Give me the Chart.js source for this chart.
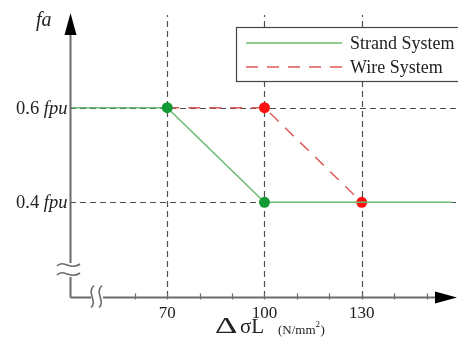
<!DOCTYPE html>
<html>
<head>
<meta charset="utf-8">
<script src="https://cdn.jsdelivr.net/npm/chart.js@4/dist/chart.umd.min.js"></script>
<style>
  html, body { margin: 0; padding: 0; background: #fff; }
  #wrap { width: 458px; height: 345px; }
</style>
</head>
<body>
<div id="wrap"><canvas id="chart"></canvas></div>
<script>
// === Datos ===
const strandX = [40, 70, 100, 158];
const strandY = [0.6, 0.6, 0.4, 0.4];
const strandDots = [70, 100];

const wireX = [70, 100, 130];
const wireY = [0.6, 0.6, 0.4];
const wireDots = [100, 130];

const xGridValues = [70, 100, 130];
const xTickLabels = ["70", "100", "130"];
const xMinorTicks = [60, 70, 80, 90, 100, 110, 120, 130, 140, 150];
const yGridValues = [0.6, 0.4];
const yTickLabels = ["0.6", "0.4"];
const legendLabels = ["Strand System", "Wire System"];

const GREEN = "#6dbb6d";
const GREEN_DOT = "#149a34";
const RED = "#e05a5a";
const RED_DOT = "#ff1010";
const AXIS = "#6a6a6a";
const GRID = "#505050";
const SERIF = "'Liberation Serif', 'DejaVu Serif', serif";

const toPts = (xs, ys) => xs.map((x, i) => ({ x: x, y: ys[i] }));
const dotRadius = (dots) => (ctx) => dots.includes(ctx.raw.x) ? 5.5 : 0;

// === Dibujo de ejes, rejilla, etiquetas y leyenda ===
const decor = {
  id: "decor",
  beforeDatasetsDraw(chart) {
    const { ctx, chartArea: a, scales: { x, y } } = chart;
    ctx.save();
    // rejilla discontinua
    ctx.strokeStyle = GRID;
    ctx.lineWidth = 1.2;
    ctx.setLineDash([6, 4]);
    xGridValues.forEach(v => {
      const px = Math.round(x.getPixelForValue(v)) + 0.5;
      ctx.beginPath(); ctx.moveTo(px, a.bottom); ctx.lineTo(px, a.top + 2); ctx.stroke();
    });
    yGridValues.forEach(v => {
      const py = Math.round(y.getPixelForValue(v)) + 0.5;
      ctx.beginPath(); ctx.moveTo(a.left, py); ctx.lineTo(chart.width, py); ctx.stroke();
    });
    ctx.restore();
  },
  afterDatasetsDraw(chart) {
    const { ctx, chartArea: a, scales: { x, y } } = chart;
    ctx.save();
    const ox = a.left + 0.5, oy = Math.round(y.getPixelForValue(0.2)) + 0.5;

    // ejes
    ctx.strokeStyle = AXIS;
    ctx.lineWidth = 2;
    ctx.beginPath(); ctx.moveTo(ox, oy); ctx.lineTo(ox, 34); ctx.stroke();
    ctx.beginPath(); ctx.moveTo(ox, oy); ctx.lineTo(436, oy); ctx.stroke();
    ctx.fillStyle = "#000";
    ctx.beginPath(); ctx.moveTo(ox, 13); ctx.lineTo(ox - 6, 35); ctx.lineTo(ox + 6, 35); ctx.closePath(); ctx.fill();
    ctx.beginPath(); ctx.moveTo(457, oy); ctx.lineTo(435, oy - 6); ctx.lineTo(435, oy + 6); ctx.closePath(); ctx.fill();

    // marcas menores
    ctx.lineWidth = 1.2;
    xMinorTicks.forEach(v => {
      const px = Math.round(x.getPixelForValue(v)) + 0.5;
      ctx.beginPath(); ctx.moveTo(px, oy - 4); ctx.lineTo(px, oy + 2); ctx.stroke();
    });

    // símbolos de corte
    ctx.fillStyle = "#fff";
    ctx.fillRect(ox - 3, 263, 6, 14);
    ctx.fillRect(91, oy - 3, 12, 6);
    ctx.strokeStyle = AXIS;
    ctx.lineWidth = 1.6;
    [265, 274].forEach(yy => {
      ctx.beginPath();
      ctx.moveTo(57, yy + 1);
      ctx.bezierCurveTo(63, yy - 6, 71, yy + 6, 80, yy - 1);
      ctx.stroke();
    });
    [92, 100].forEach(xx => {
      ctx.beginPath();
      ctx.moveTo(xx + 2, oy - 12);
      ctx.bezierCurveTo(xx - 6, oy - 5, xx + 6, oy + 4, xx - 1, oy + 10);
      ctx.stroke();
    });

    // etiquetas eje x
    ctx.fillStyle = "#222";
    ctx.font = "17px " + SERIF;
    ctx.textAlign = "center";
    ctx.textBaseline = "alphabetic";
    xGridValues.forEach((v, i) => {
      ctx.fillText(xTickLabels[i], x.getPixelForValue(v), 318);
    });

    // etiquetas eje y
    ctx.textAlign = "left";
    yGridValues.forEach((v, i) => {
      const py = y.getPixelForValue(v) + 6;
      ctx.font = "18.5px " + SERIF;
      const w1 = ctx.measureText(yTickLabels[i] + " ").width;
      ctx.font = "italic 18.5px " + SERIF;
      const w2 = ctx.measureText("fpu").width;
      const x0 = ox - 3 - w1 - w2;
      ctx.font = "18.5px " + SERIF;
      ctx.fillText(yTickLabels[i] + " ", x0, py);
      ctx.font = "italic 18.5px " + SERIF;
      ctx.fillText("fpu", x0 + w1, py);
    });

    // títulos de ejes
    ctx.font = "italic 20px " + SERIF;
    ctx.fillText("fa", 36, 26);
    ctx.save();
    ctx.translate(215, 333);
    ctx.scale(1.45, 1);
    ctx.font = "24px " + SERIF;
    ctx.fillText("Δ", 0, 0);
    ctx.restore();
    ctx.font = "21px " + SERIF;
    ctx.fillText("σL", 240, 333);
    ctx.font = "13px " + SERIF;
    ctx.fillText("(N/mm", 278, 334);
    const wN = ctx.measureText("(N/mm").width;
    ctx.font = "9px " + SERIF;
    ctx.fillText("2", 278 + wN, 327);
    ctx.font = "13px " + SERIF;
    ctx.fillText(")", 278 + wN + 5, 334);

    // leyenda
    ctx.fillStyle = "#fff";
    ctx.fillRect(237, 28, 230, 54);
    ctx.strokeStyle = "#444";
    ctx.lineWidth = 1.2;
    ctx.strokeRect(236.5, 27.5, 240, 54);
    ctx.lineWidth = 1.5;
    ctx.strokeStyle = GREEN;
    ctx.setLineDash([]);
    ctx.beginPath(); ctx.moveTo(246, 43); ctx.lineTo(342, 43); ctx.stroke();
    ctx.strokeStyle = RED;
    ctx.setLineDash([12, 9]);
    ctx.beginPath(); ctx.moveTo(246, 67); ctx.lineTo(342, 67); ctx.stroke();
    ctx.setLineDash([]);
    ctx.fillStyle = "#222";
    ctx.font = "18px " + SERIF;
    ctx.fillText(legendLabels[0], 350, 49);
    ctx.fillText(legendLabels[1], 350, 73);
    ctx.restore();
  }
};

new Chart(document.getElementById("chart"), {
  type: "scatter",
  data: {
    datasets: [
      {
        label: legendLabels[1],
        data: toPts(wireX, wireY),
        showLine: true,
        borderColor: RED,
        borderWidth: 1.5,
        borderDash: [12, 9],
        pointRadius: dotRadius(wireDots),
        pointBackgroundColor: RED_DOT,
        pointBorderWidth: 0,
        order: 2
      },
      {
        label: legendLabels[0],
        data: toPts(strandX, strandY),
        showLine: true,
        borderColor: GREEN,
        borderWidth: 1.5,
        pointRadius: dotRadius(strandDots),
        pointBackgroundColor: GREEN_DOT,
        pointBorderWidth: 0,
        order: 1
      }
    ]
  },
  options: {
    responsive: true,
    maintainAspectRatio: false,
    animation: false,
    layout: { padding: { left: 70, right: 0, top: 13, bottom: 48 } },
    plugins: { legend: { display: false }, tooltip: { enabled: false } },
    scales: {
      x: { type: "linear", min: 40, max: 158, display: false },
      y: { type: "linear", min: 0.2, max: 0.8, display: false }
    }
  },
  plugins: [decor]
});
</script>
</body>
</html>
